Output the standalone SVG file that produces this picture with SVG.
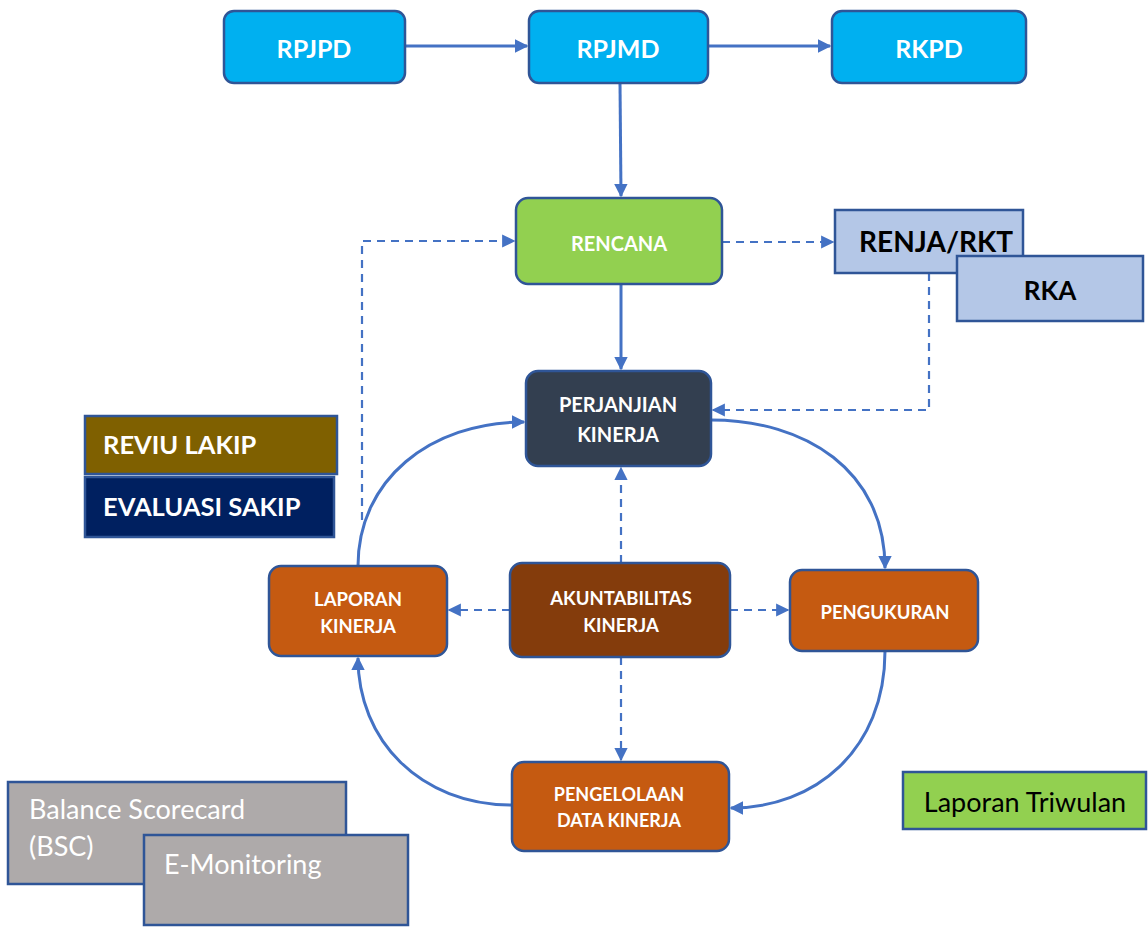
<svg xmlns="http://www.w3.org/2000/svg" width="1148" height="927" viewBox="0 0 1148 927">
  <style>
    .box { stroke: #2F5597; stroke-width: 2.5; }
    .t { font-family: Lato, "Open Sans", "Liberation Sans", sans-serif; font-weight: bold; fill: #ffffff; text-anchor: middle; dominant-baseline: central; }
    .tb { font-family: Lato, "Open Sans", "Liberation Sans", sans-serif; font-weight: bold; fill: #000000; text-anchor: middle; dominant-baseline: central; }
    .tn { font-family: Lato, "Open Sans", "Liberation Sans", sans-serif; fill: #ffffff; }
    .solid { fill: none; stroke: #4472C4; stroke-width: 3; }
    .dash { fill: none; stroke: #4472C4; stroke-width: 2.2; stroke-dasharray: 8 6; }
  </style>
  <defs>
    <marker id="arr" viewBox="0 0 10 10" refX="9" refY="5" markerWidth="4.5" markerHeight="4.5" orient="auto" markerUnits="strokeWidth">
      <path d="M0,0 L10,5 L0,10 z" fill="#4472C4"/>
    </marker>
    <marker id="arrd" viewBox="0 0 10 10" refX="9" refY="5" markerWidth="6" markerHeight="6" orient="auto" markerUnits="strokeWidth">
      <path d="M0,0 L10,5 L0,10 z" fill="#4472C4"/>
    </marker>
  </defs>

  <g id="connectors">
    <line class="solid" x1="405" y1="46" x2="527" y2="46" marker-end="url(#arr)"/>
    <line class="solid" x1="708" y1="46" x2="830" y2="46" marker-end="url(#arr)"/>
    <line class="solid" x1="620" y1="83" x2="621" y2="196" marker-end="url(#arr)"/>
    <line class="solid" x1="621" y1="284" x2="621" y2="369" marker-end="url(#arr)"/>
    <line class="dash" x1="722" y1="242" x2="833" y2="242" marker-end="url(#arrd)"/>
    <polyline class="dash" points="929,273 929,410 713,410" marker-end="url(#arrd)"/>
    <polyline class="dash" points="362,520 362,241 514,241" marker-end="url(#arrd)"/>
    <line class="dash" x1="621" y1="563" x2="621" y2="468" marker-end="url(#arrd)"/>
    <line class="dash" x1="510" y1="610" x2="449" y2="610" marker-end="url(#arrd)"/>
    <line class="dash" x1="730" y1="610" x2="788" y2="610" marker-end="url(#arrd)"/>
    <line class="dash" x1="621" y1="657" x2="621" y2="760" marker-end="url(#arrd)"/>
    <path class="solid" d="M358,566 C358,480 430,422 524,422" marker-end="url(#arr)"/>
    <path class="solid" d="M711,420 C805,420 885,470 885,568" marker-end="url(#arr)"/>
    <path class="solid" d="M885,651 C885,750 815,808 731,808" marker-end="url(#arr)"/>
    <path class="solid" d="M512,805 C420,805 358,740 358,658" marker-end="url(#arr)"/>
  </g>

  <g id="rpjpd">
    <rect class="box" x="224" y="11" width="181" height="72" rx="10" fill="#00B0F0"/>
    <text class="t" x="314" y="48" font-size="25">RPJPD</text>
  </g>
  <g id="rpjmd">
    <rect class="box" x="529" y="11" width="179" height="72" rx="10" fill="#00B0F0"/>
    <text class="t" x="618" y="48" font-size="25">RPJMD</text>
  </g>
  <g id="rkpd">
    <rect class="box" x="832" y="11" width="194" height="72" rx="10" fill="#00B0F0"/>
    <text class="t" x="929" y="48" font-size="25">RKPD</text>
  </g>

  <g id="rencana">
    <rect class="box" x="516" y="198" width="206" height="86" rx="12" fill="#92D050"/>
    <text class="t" x="619" y="243" font-size="20">RENCANA</text>
  </g>
  <g id="renja-rkt">
    <rect class="box" x="835" y="210" width="188" height="63" fill="#B4C7E7"/>
    <text class="tb" x="936" y="241" font-size="28">RENJA/RKT</text>
  </g>
  <g id="rka">
    <rect class="box" x="957" y="256" width="186" height="65" fill="#B4C7E7"/>
    <text class="tb" x="1050" y="290" font-size="26">RKA</text>
  </g>

  <g id="perjanjian-kinerja">
    <rect class="box" x="526" y="371" width="185" height="95" rx="12" fill="#333F50"/>
    <text class="t" x="618" y="404" font-size="20">PERJANJIAN</text>
    <text class="t" x="618" y="434" font-size="20">KINERJA</text>
  </g>

  <g id="reviu-lakip">
    <rect class="box" x="85" y="416" width="252" height="58" fill="#7F6000"/>
    <text class="tn" x="103" y="454" font-size="25.5" font-weight="bold">REVIU LAKIP</text>
  </g>
  <g id="evaluasi-sakip">
    <rect class="box" x="85" y="477" width="249" height="60" fill="#002060"/>
    <text class="tn" x="103" y="516" font-size="25.5" font-weight="bold">EVALUASI SAKIP</text>
  </g>

  <g id="laporan-kinerja">
    <rect class="box" x="269" y="566" width="178" height="90" rx="12" fill="#C55A11"/>
    <text class="t" x="358" y="599" font-size="18.5">LAPORAN</text>
    <text class="t" x="358" y="626" font-size="18.5">KINERJA</text>
  </g>
  <g id="akuntabilitas-kinerja">
    <rect class="box" x="510" y="563" width="220" height="94" rx="12" fill="#843C0C"/>
    <text class="t" x="621" y="598" font-size="18.5">AKUNTABILITAS</text>
    <text class="t" x="621" y="625" font-size="18.5">KINERJA</text>
  </g>
  <g id="pengukuran">
    <rect class="box" x="790" y="570" width="188" height="81" rx="12" fill="#C55A11"/>
    <text class="t" x="885" y="612" font-size="18.5">PENGUKURAN</text>
  </g>
  <g id="pengelolaan-data-kinerja">
    <rect class="box" x="512" y="762" width="217" height="89" rx="12" fill="#C55A11"/>
    <text class="t" x="619" y="794" font-size="18">PENGELOLAAN</text>
    <text class="t" x="619" y="820" font-size="18">DATA KINERJA</text>
  </g>

  <g id="balance-scorecard">
    <rect class="box" x="8" y="782" width="338" height="102" fill="#AEAAAA"/>
    <text class="tn" x="29" y="819" font-size="27">Balance Scorecard</text>
    <text class="tn" x="29" y="856" font-size="27">(BSC)</text>
  </g>
  <g id="e-monitoring">
    <rect class="box" x="144" y="835" width="264" height="90" fill="#AEAAAA"/>
    <text class="tn" x="164" y="874" font-size="27">E-Monitoring</text>
  </g>

  <g id="laporan-triwulan">
    <rect class="box" x="903" y="772" width="243" height="57" fill="#92D050"/>
    <text x="1025" y="801" font-family="Lato, 'Open Sans', 'Liberation Sans', sans-serif" font-size="27" fill="#000" text-anchor="middle" dominant-baseline="central">Laporan Triwulan</text>
  </g>
</svg>
